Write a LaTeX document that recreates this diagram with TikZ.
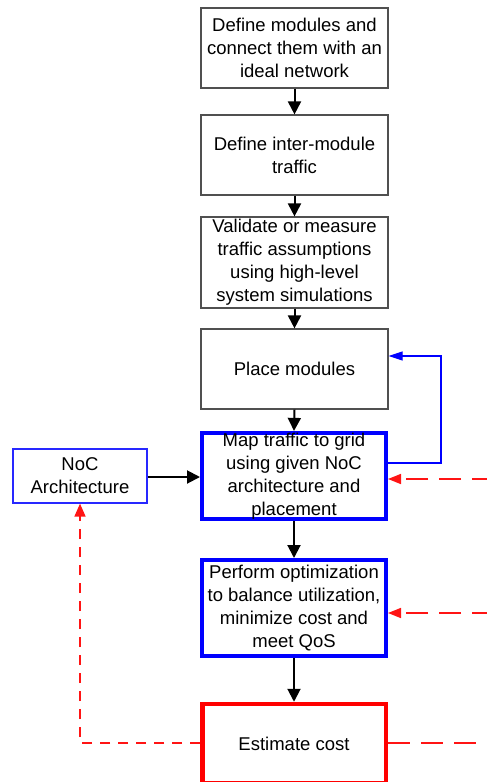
\documentclass[tikz,border=0pt]{standalone}
\usepackage{fontspec}
\setmainfont{Liberation Sans}
\usetikzlibrary{arrows.meta}
\definecolor{boxgray}{RGB}{80,80,80}
\definecolor{nocblue}{RGB}{40,40,255}
\definecolor{dred}{RGB}{255,20,20}
\tikzset{
  txt/.style={font=\fontsize{18.5}{23}\selectfont, align=center, inner sep=0pt, text=black},
  graybox/.style={txt, draw=boxgray, line width=1.2pt, minimum width=187pt},
  bluebox/.style={txt, draw=blue, line width=4pt, minimum width=184pt},
  redbox/.style={txt, draw=red, line width=4.5pt, minimum width=183.5pt},
  blk/.style={line width=2pt, -{Triangle[length=13pt,width=13pt]}},
  bluefb/.style={draw=blue, line width=1.2pt, -{Triangle[length=14pt,width=9pt]}},
  reddashA/.style={draw=dred, line width=1.6pt, dash pattern=on 10pt off 8pt, -{Triangle[length=13pt,width=11pt]}},
  reddashB/.style={draw=dred, line width=1.6pt, dash pattern=on 22pt off 11pt, -{Triangle[length=13pt,width=10pt]}},
  reddashC/.style={draw=dred, line width=1.6pt, dash pattern=on 22pt off 11pt},
}
\begin{document}
\begin{tikzpicture}[x=1pt,y=-1pt]
\path[use as bounding box, clip] (0,0) rectangle (487,782);
\node[graybox, minimum height=80pt] (b1) at (294.5,48) {Define modules and\\connect them with an\\ideal network};
\node[graybox, minimum height=80pt] (b2) at (294.5,155) {Define inter-module\\traffic};
\node[graybox, minimum height=91pt] (b3) at (294.5,262.5) {Validate or measure\\traffic assumptions\\using high-level\\system simulations};
\node[graybox, minimum height=80pt] (b4) at (294.5,369) {Place modules};
\node[bluebox, minimum height=86pt] (b5) at (294,476) {Map traffic to grid\\using given NoC\\architecture and\\placement};
\node[bluebox, minimum height=96pt] (b6) at (294,608) {Perform optimization\\to balance utilization,\\minimize cost and\\meet QoS};
\node[redbox, minimum height=79.5pt] (b7) at (294,743.75) {Estimate cost};
\node[txt, draw=nocblue, line width=1.2pt, minimum width=134pt, minimum height=54pt] (noc) at (80,476) {NoC\\Architecture};

\draw[blk] (b1.south) -- (b2.north);
\draw[blk] (b2.south) -- (b3.north);
\draw[blk] (b3.south) -- (b4.north);
\draw[blk] (b4.south) -- (b5.north);
\draw[blk] (b5.south) -- (b6.north);
\draw[blk] (b6.south) -- (b7.north);
\draw[blk] (noc.east |- 0,477) -- (b5.west |- 0,477);

\coordinate (fb) at (441,463);
\draw[bluefb] (b5.east |- fb) -- (fb) -- (441,356) -- (b4.east |- 0,356);

\coordinate (r1) at (494,479);
\coordinate (r2) at (494,613);
\coordinate (r3) at (500,743);
\coordinate (lc) at (80,743);
\draw[reddashB] (r1) -- (b5.east |- r1);
\draw[reddashB] (r2) -- (b6.east |- r2);
\draw[reddashC] (b7.east |- r3) -- (r3);
\draw[reddashA] (b7.west |- lc) -- (lc) -- (noc.south);
\end{tikzpicture}
\end{document}
